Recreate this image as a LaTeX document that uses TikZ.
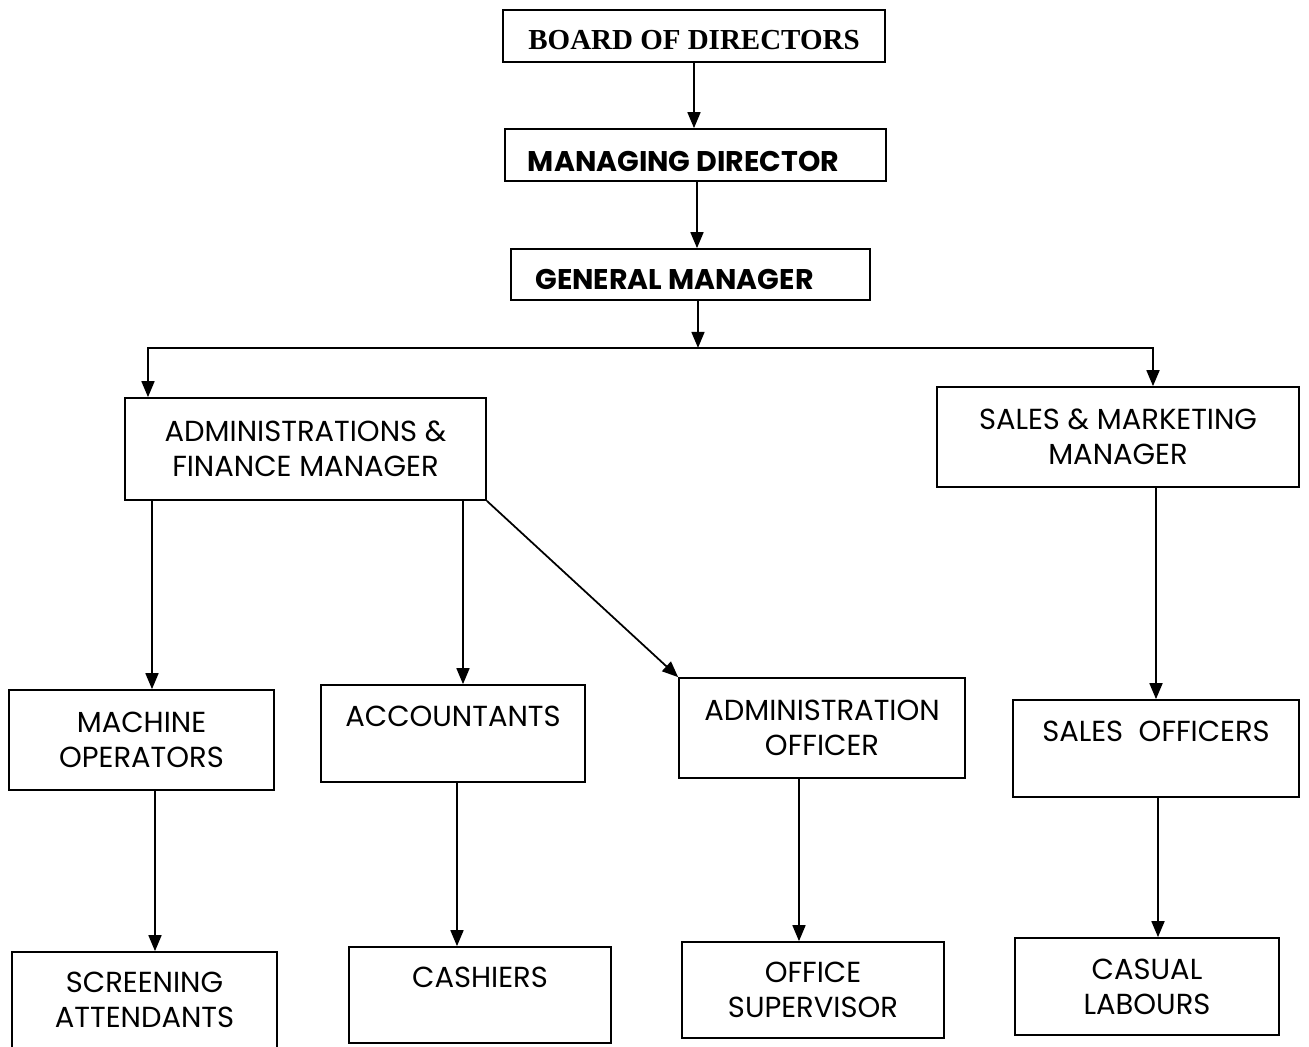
\documentclass[tikz,border=0pt]{standalone}
\usepackage{fontspec}
\setmainfont{Poppins}
\newfontfamily\timesfont{Liberation Serif}
\usetikzlibrary{arrows.meta,calc}
\newcommand{\lowered}[2]{\raisebox{-#1}[\height][\depth]{#2}}
\begin{document}
\begin{tikzpicture}[x=0.02cm,y=-0.02cm,
  box/.style={draw, line width=1pt, rectangle, align=center, inner sep=0pt,
    font=\fontsize{16.5}{19.9}\selectfont},
  topbox/.style={draw, line width=1pt, rectangle, align=center, inner sep=0pt},
  arr/.style={line width=1pt, -{Triangle[length=0.32cm,width=0.26cm]}}]
\useasboundingbox (0,0) rectangle (1309,1046);
% top chain
\node[topbox, minimum width=7.64cm, minimum height=1.04cm,
  font=\timesfont\bfseries\fontsize{16.5}{20}\selectfont] (bod) at (694,36) {\lowered{0.08cm}{BOARD OF DIRECTORS}};
\node[topbox, minimum width=7.62cm, minimum height=1.04cm,
  font=\bfseries\fontsize{16.2}{18}\selectfont] (md) at (695.5,155) {\lowered{0.12cm}{MANAGING DIRECTOR}\hspace*{0.48cm}};
\node[topbox, minimum width=7.18cm, minimum height=1.02cm,
  font=\bfseries\fontsize{16.2}{18}\selectfont] (gm) at (690.5,274.5) {\lowered{0.1cm}{GENERAL MANAGER}\hspace*{0.64cm}};
% managers
\node[box, minimum width=7.22cm, minimum height=2.04cm] (afm) at (305.5,449) {ADMINISTRATIONS \&\\FINANCE MANAGER};
\node[box, minimum width=7.24cm, minimum height=2.0cm] (smm) at (1118,437) {SALES \& MARKETING\\MANAGER};
% third row
\node[box, minimum width=5.3cm, minimum height=2.0cm] (mo) at (141.5,740) {MACHINE\\OPERATORS};
\node[box, minimum width=5.28cm, minimum height=1.94cm] (acc) at (453,733.5) {ACCOUNTANTS\\\mbox{}};
\node[box, minimum width=5.72cm, minimum height=2.0cm] (ao) at (822,728) {ADMINISTRATION\\OFFICER};
\node[box, minimum width=5.72cm, minimum height=1.94cm] (so) at (1156,748.5) {SALES\ \ OFFICERS\\\mbox{}};
% bottom row
\node[box, minimum width=5.3cm, minimum height=1.92cm] (sa) at (144.5,1000) {SCREENING\\ATTENDANTS};
\node[box, minimum width=5.24cm, minimum height=1.92cm] (cash) at (480,995) {CASHIERS\\\mbox{}};
\node[box, minimum width=5.24cm, minimum height=1.92cm] (os) at (813,990) {OFFICE\\SUPERVISOR};
\node[box, minimum width=5.28cm, minimum height=1.94cm] (cl) at (1147,986.5) {CASUAL\\LABOURS};
% connector entry points
\coordinate (j) at ($(gm.south)+(7.5,47)$);
\coordinate (afmin) at ($(afm.north)+(-157.5,0)$);
\coordinate (smmin) at ($(smm.north)+(35,0)$);
\coordinate (moin) at ($(mo.north)+(10.5,0)$);
\coordinate (accin) at ($(acc.north)+(10,0)$);
\coordinate (sain) at ($(sa.north)+(10.5,0)$);
\coordinate (cashin) at ($(cash.north)+(-23,0)$);
\coordinate (osin) at ($(os.north)+(-14,0)$);
\coordinate (clin) at ($(cl.north)+(11,0)$);
% connectors
\draw[arr] (bod.south) -- (bod.south |- md.north);
\draw[arr] ($(md.south)+(1.5,0)$) -- ($(md.south |- gm.north)+(1.5,0)$);
\draw[arr] (gm.south -| j) -- (j);
\draw[arr] (j) -| (afmin);
\draw[arr] (j) -| (smmin);
\draw[arr] (moin |- afm.south) -- (moin);
\draw[arr] (accin |- afm.south) -- (accin);
\draw[arr] (afm.south east) -- (ao.north west);
\draw[arr] (so.north |- smm.south) -- (so.north);
\draw[arr] (sain |- mo.south) -- (sain);
\draw[arr] (cashin |- acc.south) -- (cashin);
\draw[arr] (osin |- ao.south) -- (osin);
\draw[arr] (clin |- so.south) -- (clin);
\end{tikzpicture}
\end{document}
